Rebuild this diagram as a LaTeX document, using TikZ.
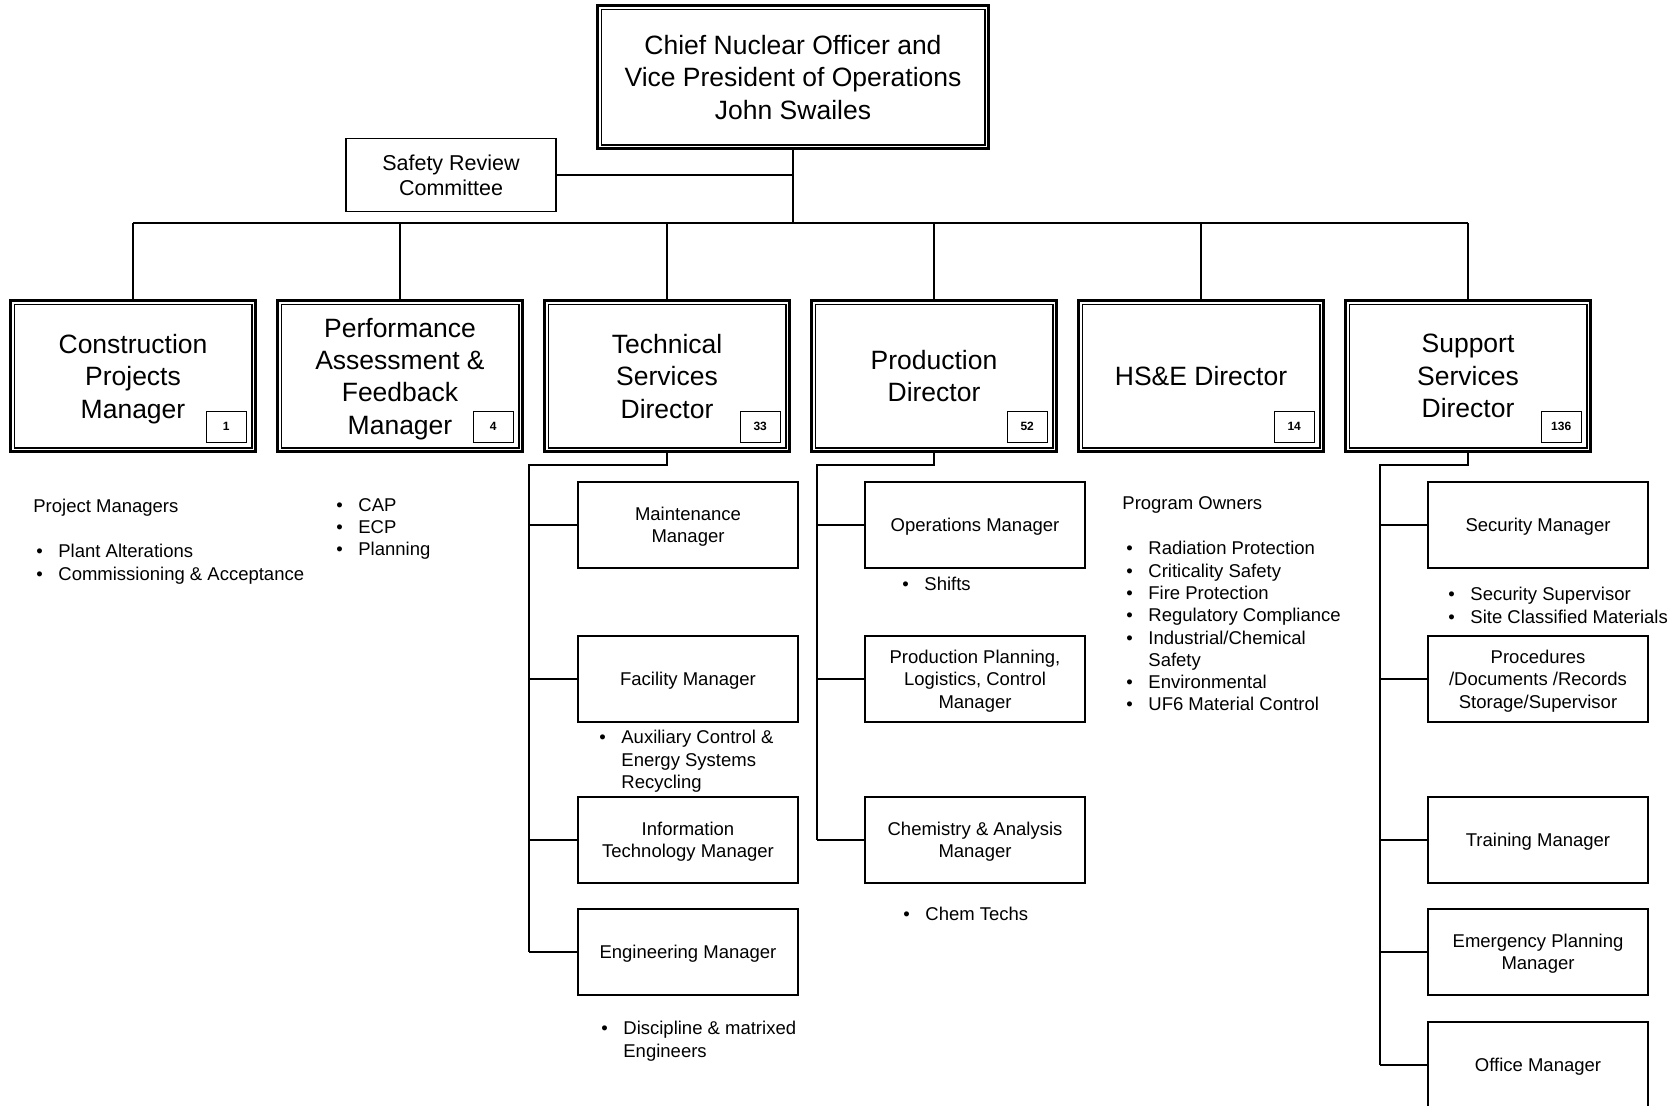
\documentclass[tikz,border=0pt]{standalone}
\usepackage{fontspec}
\setmainfont{Liberation Sans}
\usepackage{tikz}

\newcommand{\bul}{\makebox[11pt][l]{\textbullet}}
\newcommand{\ind}{\hspace*{11pt}}

\begin{document}
\begin{tikzpicture}[x=0.5pt, y=-0.5pt, node distance=133.5pt,
    every node/.style={inner sep=0pt},
    topbox/.style={draw, line width=1.4pt, align=center, minimum width=195.5pt, text depth=0pt,
                   minimum height=71.5pt, font=\fontsize{13.25}{16.2}\selectfont},
    dirbox/.style={draw, line width=1.4pt, align=center, minimum width=122.5pt, text depth=0pt,
                   minimum height=75.5pt, font=\fontsize{13.25}{16.2}\selectfont},
    numbox/.style={draw, line width=0.7pt, minimum width=20pt, minimum height=15.5pt,
                   font=\fontsize{6}{7}\selectfont\bfseries},
    srcbox/.style={draw, line width=0.9pt, align=center, minimum width=105pt, text depth=0pt,
                   minimum height=36.5pt, font=\fontsize{10.75}{12.75}\selectfont},
    subbox/.style={draw, line width=0.9pt, align=center, minimum width=110pt, text depth=0pt,
                   minimum height=43pt, font=\fontsize{9.25}{11.15}\selectfont},
    notes/.style={align=left, anchor=north west, font=\fontsize{9.25}{11.15}\selectfont},
    inner line/.style={line width=0.6pt},
    link/.style={line width=0.8pt}]

\path[use as bounding box, fill=white] (0,0) rectangle (1668,1105);
\clip (0,0) rectangle (1668,1105);

% top of the chart
\node[topbox] (cno) at (793,77) {Chief Nuclear Officer and\\Vice President of Operations\\John Swailes};
\node[srcbox] (src) at (451,175) {Safety Review\\Committee};

% directors
\node[dirbox] (cpm) at (133,376) {Construction\\Projects\\Manager};
\node[dirbox] (pafm) [right of=cpm] {Performance\\Assessment \&\\Feedback\\Manager};
\node[dirbox] (tsd) [right of=pafm] {Technical\\Services\\Director};
\node[dirbox] (pd) [right of=tsd] {Production\\Director};
\node[dirbox] (hse) [right of=pd] {HS\&E Director};
\node[dirbox] (ssd) [right of=hse] {Support\\Services\\Director};

\foreach \n in {cno,cpm,pafm,tsd,pd,hse,ssd}
  \draw[inner line] ([shift={(2.5pt,2.5pt)}]\n.south west) rectangle ([shift={(-2.5pt,-2.5pt)}]\n.north east);

\foreach \n/\k in {cpm/1,pafm/4,tsd/33,pd/52,hse/14,ssd/136}
  \node[numbox, anchor=south east] (\n-num) at ([shift={(-5pt,5pt)}]\n.south east) {\k};

% top connectors
\coordinate (bus) at (793,223);
\draw[link] (cno.south) -- (bus);
\draw[link] (src.east) -- (src.east -| cno.south);
\draw[link] (cpm.north |- bus) -- (ssd.north |- bus);
\foreach \n in {cpm,pafm,tsd,pd,hse,ssd}
  \draw[link] (\n.north |- bus) -- (\n.north);

% technical services
\node[subbox] (mnt) at (688,525) {Maintenance\\Manager};
\node[subbox] (fac) at (688,679) {Facility Manager};
\node[subbox] (itm) at (688,840) {Information\\Technology Manager};
\node[subbox] (eng) at (688,952) {Engineering Manager};

% production
\node[subbox] (ops) at (975,525) {Operations Manager};
\node[subbox] (ppl) at (975,679) {Production Planning,\\Logistics, Control\\Manager};
\node[subbox] (chem) at (975,840) {Chemistry \& Analysis\\Manager};

% support services
\node[subbox] (sec) at (1538,525) {Security Manager};
\node[subbox] (proc) at (1538,679) {Procedures\\/Documents /Records\\Storage/Supervisor};
\node[subbox] (trn) at (1538,840) {Training Manager};
\node[subbox] (emp) at (1538,952) {Emergency Planning\\Manager};
\node[subbox] (ofm) at (1538,1065) {Office Manager};

\coordinate (tsd-k) at (529,465);
\coordinate (pd-k) at (817,465);
\coordinate (ssd-k) at (1380,465);
\draw[link] (tsd.south) |- (tsd-k) -- (tsd-k |- eng.west);
\draw[link] (pd.south) |- (pd-k) -- (pd-k |- chem.west);
\draw[link] (ssd.south) |- (ssd-k) -- (ssd-k |- ofm.west);
\foreach \b in {mnt,fac,itm,eng}
  \draw[link] (tsd-k |- \b.west) -- (\b.west);
\foreach \b in {ops,ppl,chem}
  \draw[link] (pd-k |- \b.west) -- (\b.west);
\foreach \b in {sec,proc,trn,emp,ofm}
  \draw[link] (ssd-k |- \b.west) -- (\b.west);

% notes under the boxes
\node[notes] (cpm-lbl) at (33,499) {Project Managers};
\node[notes] (cpm-list) at (36,544) {\bul Plant Alterations\\\bul Commissioning \& Acceptance};
\node[notes] (pafm-list) at (336,498) {\bul CAP\\\bul ECP\\\bul Planning};
\node[notes] (fac-list) at (599,730) {\bul Auxiliary Control \&\\\ind Energy Systems\\\ind Recycling};
\node[notes] (eng-list) at (601,1021) {\bul Discipline \& matrixed\\\ind Engineers};
\node[notes] (ops-list) at (902,577) {\bul Shifts};
\node[notes] (chem-list) at (903,907) {\bul Chem Techs};
\node[notes] (hse-lbl) at (1122,496) {Program Owners};
\node[notes] (hse-list) at (1126,541) {\bul Radiation Protection\\\bul Criticality Safety\\\bul Fire Protection\\\bul Regulatory Compliance\\\bul Industrial/Chemical\\\ind Safety\\\bul Environmental\\\bul UF6 Material Control};
\node[notes] (sec-list) at (1448,587) {\bul Security Supervisor\\\bul Site Classified Materials};
\end{tikzpicture}
\end{document}
